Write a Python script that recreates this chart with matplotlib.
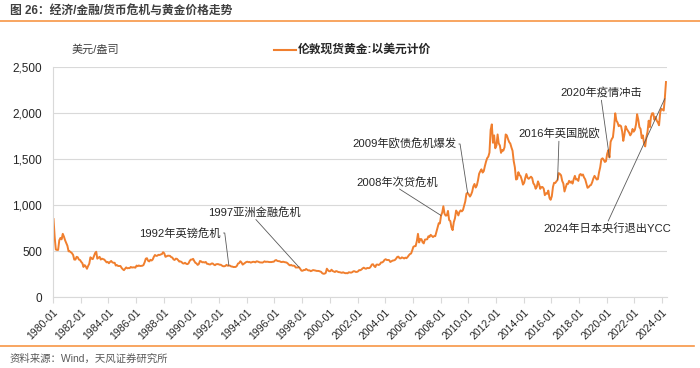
import numpy as np
import pandas as pd
import matplotlib
matplotlib.use('Agg')
import matplotlib.pyplot as plt
from matplotlib.lines import Line2D

plt.rcParams['font.family'] = ['Liberation Sans', 'Noto Sans CJK SC', 'DejaVu Sans']

# London spot gold, USD/oz, monthly readings (from 1980-01)
prices_1980s = [
    850, 650, 520, 515, 515, 620, 645, 630, 690, 660, 620, 590,
    560, 500, 500, 490, 480, 460, 410, 410, 440, 435, 410, 405,
    385, 370, 330, 350, 335, 310, 340, 365, 435, 420, 415, 445,
    480, 495, 420, 430, 440, 410, 420, 415, 410, 395, 380, 385,
    370, 385, 395, 380, 375, 375, 345, 350, 340, 340, 340, 320,
    305, 295, 310, 325, 315, 318, 317, 330, 323, 326, 325, 322,
    345, 338, 346, 340, 342, 343, 350, 380, 420, 425, 397, 390,
    408, 400, 410, 440, 460, 450, 452, 462, 460, 466, 470, 490,
    478, 440, 445, 452, 452, 450, 437, 432, 412, 406, 420, 418,
    404, 388, 390, 384, 370, 367, 375, 365, 360, 368, 394, 410,
]
prices_1990s = [
    410, 418, 395, 375, 368, 352, 362, 395, 390, 380, 382, 378,
    384, 364, 363, 358, 357, 367, 368, 356, 349, 359, 361, 360,
    354, 354, 345, 338, 337, 341, 353, 343, 345, 344, 335, 334,
    329, 329, 330, 342, 367, 372, 392, 378, 355, 365, 374, 383,
    387, 382, 384, 377, 381, 386, 385, 380, 391, 389, 384, 379,
    379, 377, 382, 391, 385, 387, 386, 383, 383, 383, 386, 387,
    400, 405, 396, 393, 392, 385, 383, 387, 383, 381, 378, 369,
    355, 347, 352, 344, 344, 341, 324, 324, 323, 325, 306, 289,
    289, 297, 296, 308, 299, 292, 293, 284, 289, 296, 294, 291,
    287, 287, 286, 282, 277, 262, 256, 257, 265, 311, 293, 283,
]
prices_2000s = [
    284, 300, 286, 280, 275, 285, 281, 274, 273, 270, 266, 272,
    266, 262, 263, 261, 272, 270, 268, 273, 283, 283, 276, 276,
    282, 296, 294, 302, 314, 322, 314, 310, 319, 317, 319, 333,
    357, 359, 340, 328, 355, 356, 351, 360, 379, 379, 389, 407,
    414, 405, 406, 404, 384, 392, 399, 401, 406, 420, 439, 442,
    424, 423, 434, 429, 422, 431, 425, 438, 456, 470, 476, 510,
    550, 555, 557, 610, 690, 596, 633, 632, 598, 586, 627, 629,
    631, 664, 655, 679, 667, 655, 665, 665, 712, 754, 806, 803,
    889, 922, 990, 909, 888, 890, 939, 839, 829, 760, 730, 816,
    858, 943, 924, 890, 928, 945, 934, 949, 996, 1043, 1127, 1135,
]
prices_2010s = [
    1118, 1095, 1114, 1148, 1205, 1232, 1193, 1215, 1271, 1343, 1370, 1391,
    1356, 1372, 1424, 1474, 1512, 1529, 1573, 1820, 1880, 1680, 1760, 1620,
    1650, 1770, 1673, 1650, 1570, 1600, 1594, 1630, 1770, 1760, 1721, 1688,
    1671, 1627, 1593, 1480, 1414, 1280, 1286, 1360, 1330, 1316, 1275, 1225,
    1244, 1300, 1340, 1299, 1288, 1300, 1311, 1296, 1239, 1222, 1180, 1201,
    1260, 1227, 1179, 1198, 1199, 1181, 1110, 1130, 1125, 1160, 1080, 1060,
    1097, 1200, 1245, 1242, 1260, 1276, 1350, 1341, 1326, 1266, 1236, 1150,
    1192, 1234, 1231, 1266, 1246, 1260, 1236, 1283, 1320, 1280, 1283, 1265,
    1331, 1340, 1324, 1335, 1303, 1282, 1238, 1190, 1198, 1215, 1221, 1250,
    1291, 1320, 1301, 1280, 1284, 1359, 1413, 1500, 1511, 1495, 1471, 1479,
]
prices_2020s = [
    1560, 1600, 1520, 1690, 1720, 1740, 1850, 2000, 1920, 1900, 1860, 1870,
    1860, 1800, 1700, 1770, 1860, 1830, 1810, 1790, 1760, 1780, 1830, 1800,
    1820, 1880, 1990, 1930, 1850, 1830, 1730, 1760, 1670, 1640, 1740, 1800,
    1920, 1850, 1960, 2000, 2000, 1930, 1960, 1920, 1900, 1870, 2010, 2050,
    2040, 2030, 2160, 2340,
]

event_labels = ['1992年英镑危机', '1997亚洲金融危机', '2008年次贷危机', '2009年欧债危机爆发',
                '2016年英国脱欧', '2020年疫情冲击', '2024年日本央行退出YCC']
event_months = ['1992-09', '1997-10', '2008-01', '2009-12', '2016-06', '2020-03', '2024-03']

tick_years = list(range(1980, 2025, 2))

prices = prices_1980s + prices_1990s + prices_2000s + prices_2010s + prices_2020s
dates = pd.date_range('1980-01-01', periods=len(prices), freq='MS') + pd.Timedelta(days=14)
gold = pd.Series(prices, index=dates)

W, H = 700, 368
fig = plt.figure(figsize=(W / 100, H / 100), dpi=100)
ax = fig.add_axes([53 / W, (H - 297.3) / H, (667 - 53) / W, (297.3 - 67.3) / H])

ax.plot(gold.index, gold.values, color='#F07F2E', lw=1.4)

ax.set_ylim(0, 2500)
ax.set_yticks(range(0, 2501, 500))
ax.set_yticklabels([f'{v:,}' for v in range(0, 2501, 500)])
ax.set_xlim(pd.Timestamp('1980-01-01'), pd.Timestamp('2024-05-12'))
ax.set_xticks([pd.Timestamp(f'{y}-01-01') for y in tick_years])
ax.set_xticklabels([f'{y}-01' for y in tick_years], rotation=45, ha='right',
                   rotation_mode='anchor')

for s in ['top', 'right']:
    ax.spines[s].set_visible(False)
for s in ['left', 'bottom']:
    ax.spines[s].set_color('#D9D9D9')
ax.yaxis.grid(True, color='#D9D9D9', lw=0.8)
ax.set_axisbelow(True)
ax.tick_params(axis='y', length=0, pad=8, labelsize=8.5, labelcolor='#262626')
ax.tick_params(axis='x', length=4, color='#D9D9D9', pad=3, labelsize=7.5, labelcolor='#262626')

# label placement (figure pixels from top-left), connector style
label_pos = [(180, 233), (254, 212), (397, 182), (404, 144), (559, 133), (601, 92), (607, 229)]
rel = [(1, 0.5), (0.5, 0), (0.5, 0), (1, 0.5), (0.5, 0), (0.5, 0), (0.5, 1)]
arm = [True, False, False, True, False, False, False]

for lab, mon, (tx, ty), rp, a in zip(event_labels, event_months, label_pos, rel, arm):
    d = pd.Timestamp(mon + '-01') + pd.Timedelta(days=14)
    cs = 'arc,angleA=0,armA=4,angleB=0,armB=0,rad=0' if a else 'arc3'
    ax.annotate(lab, xy=(d, gold[d]), xytext=(tx, H - ty), textcoords='figure pixels',
                ha='center', va='center', fontsize=8.1, color='#262626',
                arrowprops=dict(arrowstyle='-', color='#595959', lw=0.6, relpos=rp,
                                patchA=None, shrinkA=2, shrinkB=0, connectionstyle=cs))

# header / footer
fig.text(10 / W, 1 - 11 / H, '图 26：经济/金融/货币危机与黄金价格走势', fontsize=8.5,
         fontweight='bold', color='#404040', va='center', ha='left')
fig.add_artist(Line2D([0, 1], [1 - 20.7 / H, 1 - 20.7 / H], color='#F79646', lw=1.2))
fig.add_artist(Line2D([0, 694 / W], [1 - 346 / H, 1 - 346 / H], color='#F79646', lw=1.2))
fig.text(10 / W, 1 - 359 / H, '资料来源：Wind，天风证券研究所', fontsize=7.5,
         color='#595959', va='center', ha='left')

fig.text(72 / W, 1 - 50 / H, '美元/盎司', fontsize=8, color='#404040', va='center', ha='left')
fig.add_artist(Line2D([274 / W, 296 / W], [1 - 50 / H, 1 - 50 / H], color='#F07F2E', lw=1.5))
fig.text(298 / W, 1 - 50 / H, '伦敦现货黄金:以美元计价', fontsize=8.5, fontweight='bold',
         color='#262626', va='center', ha='left')

fig.savefig('out.png', dpi=100)
